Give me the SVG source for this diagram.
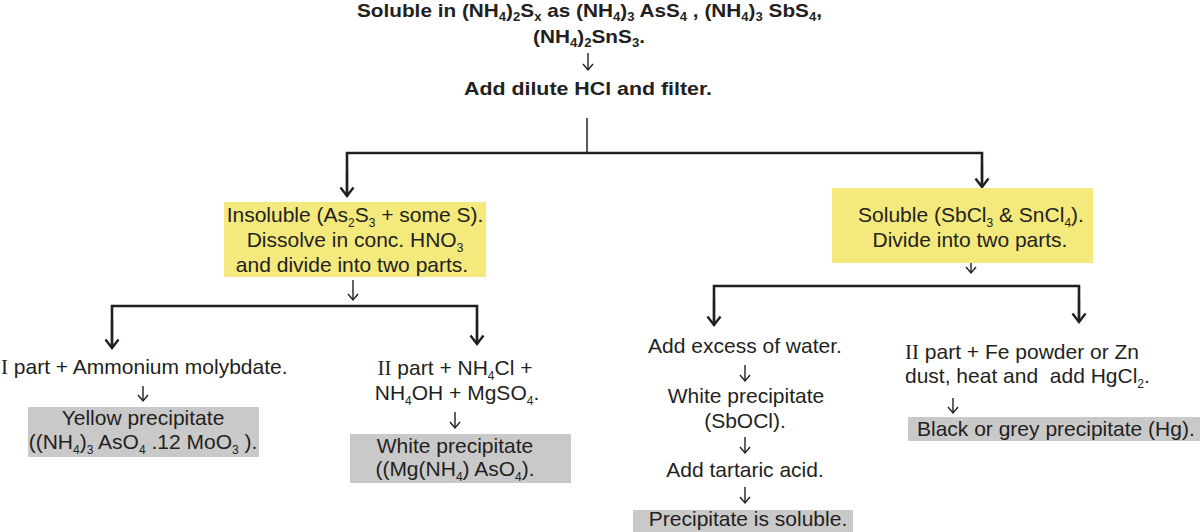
<svg xmlns="http://www.w3.org/2000/svg" width="1200" height="532" viewBox="0 0 1200 532">
<style>
.t{font-family:"Liberation Sans",Arial,sans-serif;font-size:21px;fill:#231f20}
.b{font-weight:bold;font-size:19px}
.s{font-size:12px}
.r{font-family:"Liberation Serif","Times New Roman",serif}
.ylw{fill:#f4e97d}
.gry{fill:#c9c9c9}
.ln{stroke:#231f20;fill:none}
.main{stroke-width:2.6}
.thin{stroke-width:1.5}
.arr{stroke-width:2.2;marker-end:url(#ah)}
.sm{stroke-width:1.4;marker-end:url(#sa)}
</style>
<defs>
<marker id="ah" viewBox="-12 -10 14 20" refX="0" refY="0" markerWidth="14" markerHeight="20" markerUnits="userSpaceOnUse" orient="auto">
<path d="M-8.5,-6.5 L0,0 L-8.5,6.5" fill="none" stroke="#231f20" stroke-width="2.4"/>
</marker>
<marker id="sa" viewBox="-10 -8 12 16" refX="0" refY="0" markerWidth="12" markerHeight="16" markerUnits="userSpaceOnUse" orient="auto">
<path d="M-6,-5 L0,0 L-6,5" fill="none" stroke="#231f20" stroke-width="1.4"/>
</marker>
</defs>
<rect width="1200" height="532" fill="#ffffff"/>

<g id="connectors">
<line class="ln sm" x1="588" y1="53" x2="588" y2="70"/>
<line class="ln thin" x1="587" y1="118" x2="587" y2="153"/>
<polyline class="ln main" points="347,196 347,153 982,153 982,187" style="marker-end:none"/>
<line class="ln arr" x1="347" y1="170" x2="347" y2="196"/>
<line class="ln arr" x1="982" y1="165" x2="982" y2="187"/>
<line class="ln sm" x1="353" y1="280" x2="353" y2="300"/>
<polyline class="ln main" points="112,346 112,306 477,306 477,344"/>
<line class="ln arr" x1="112" y1="320" x2="112" y2="348"/>
<line class="ln arr" x1="477" y1="320" x2="477" y2="344"/>
<line class="ln sm" x1="971" y1="255" x2="971" y2="273"/>
<polyline class="ln main" points="714,324 714,286 1079,286 1079,322"/>
<line class="ln arr" x1="714" y1="300" x2="714" y2="325"/>
<line class="ln arr" x1="1079" y1="300" x2="1079" y2="322"/>
<line class="ln sm" x1="143" y1="386" x2="143" y2="401"/>
<line class="ln sm" x1="455" y1="412" x2="455" y2="428"/>
<line class="ln sm" x1="745" y1="365" x2="745" y2="381"/>
<line class="ln sm" x1="745" y1="437" x2="745" y2="453"/>
<line class="ln sm" x1="745" y1="487" x2="745" y2="503"/>
<line class="ln sm" x1="953" y1="398" x2="953" y2="413"/>
</g>

<g id="n-top">
<text class="t b" x="357" y="17" textLength="465" lengthAdjust="spacingAndGlyphs">Soluble in (NH<tspan class="s" dy="4">4</tspan><tspan dy="-4">)</tspan><tspan class="s" dy="4">2</tspan><tspan dy="-4">S</tspan><tspan class="s" dy="4">x</tspan><tspan dy="-4"> as (NH</tspan><tspan class="s" dy="4">4</tspan><tspan dy="-4">)</tspan><tspan class="s" dy="4">3</tspan><tspan dy="-4"> AsS</tspan><tspan class="s" dy="4">4</tspan><tspan dy="-4"> , (NH</tspan><tspan class="s" dy="4">4</tspan><tspan dy="-4">)</tspan><tspan class="s" dy="4">3</tspan><tspan dy="-4"> SbS</tspan><tspan class="s" dy="4">4</tspan><tspan dy="-4">,</tspan></text>
<text class="t b" x="533" y="43" textLength="112" lengthAdjust="spacingAndGlyphs">(NH<tspan class="s" dy="4">4</tspan><tspan dy="-4">)</tspan><tspan class="s" dy="4">2</tspan><tspan dy="-4">SnS</tspan><tspan class="s" dy="4">3</tspan><tspan dy="-4">.</tspan></text>
</g>

<g id="n-hcl">
<text class="t b" x="464" y="95" textLength="248" lengthAdjust="spacingAndGlyphs">Add dilute HCl and filter.</text>
</g>

<g id="n-insoluble">
<rect class="ylw" x="224" y="202" width="262" height="75"/>
<text class="t" x="355" y="222" text-anchor="middle">Insoluble (As<tspan class="s" dy="5">2</tspan><tspan dy="-5">S</tspan><tspan class="s" dy="5">3</tspan><tspan dy="-5"> + some S).</tspan></text>
<text class="t" x="355" y="247" text-anchor="middle">Dissolve in conc. HNO<tspan class="s" dy="5">3</tspan></text>
<text class="t" x="352" y="272" text-anchor="middle">and divide into two  parts.</text>
</g>

<g id="n-soluble">
<rect class="ylw" x="832" y="188" width="261" height="75"/>
<text class="t" x="971" y="222" text-anchor="middle">Soluble (SbCl<tspan class="s" dy="5">3</tspan><tspan dy="-5"> &amp; SnCl</tspan><tspan class="s" dy="5">4</tspan><tspan dy="-5">).</tspan></text>
<text class="t" x="970" y="247" text-anchor="middle">Divide into two parts.</text>
</g>

<g id="n-part1-as">
<text class="t" x="1" y="374"><tspan class="r">I</tspan> part + Ammonium molybdate.</text>
</g>

<g id="n-yellow-ppt">
<rect class="gry" x="28" y="407" width="231" height="50"/>
<text class="t" x="143" y="425" text-anchor="middle">Yellow precipitate</text>
<text class="t" x="143" y="449" text-anchor="middle">((NH<tspan class="s" dy="5">4</tspan><tspan dy="-5">)</tspan><tspan class="s" dy="5">3</tspan><tspan dy="-5"> AsO</tspan><tspan class="s" dy="5">4</tspan><tspan dy="-5"> .12 MoO</tspan><tspan class="s" dy="5">3</tspan><tspan dy="-5"> ).</tspan></text>
</g>

<g id="n-part2-as">
<text class="t" x="455" y="375" text-anchor="middle"><tspan class="r">II</tspan> part + NH<tspan class="s" dy="5">4</tspan><tspan dy="-5">Cl +</tspan></text>
<text class="t" x="457" y="400" text-anchor="middle">NH<tspan class="s" dy="5">4</tspan><tspan dy="-5">OH + MgSO</tspan><tspan class="s" dy="5">4</tspan><tspan dy="-5">.</tspan></text>
</g>

<g id="n-white-ppt-mg">
<rect class="gry" x="350" y="434" width="221" height="49"/>
<text class="t" x="455" y="453" text-anchor="middle">White precipitate</text>
<text class="t" x="455" y="476" text-anchor="middle">((Mg(NH<tspan class="s" dy="5">4</tspan><tspan dy="-5">) AsO</tspan><tspan class="s" dy="5">4</tspan><tspan dy="-5">).</tspan></text>
</g>

<g id="n-water">
<text class="t" x="745" y="353" text-anchor="middle">Add excess of water.</text>
</g>

<g id="n-sbocl">
<text class="t" x="746" y="403" text-anchor="middle">White precipitate</text>
<text class="t" x="745" y="428" text-anchor="middle">(SbOCl).</text>
</g>

<g id="n-tartaric">
<text class="t" x="745" y="477" text-anchor="middle">Add tartaric acid.</text>
</g>

<g id="n-soluble-ppt">
<rect class="gry" x="633" y="510" width="220" height="22"/>
<text class="t" x="748" y="526" text-anchor="middle">Precipitate is soluble.</text>
</g>

<g id="n-part2-sn">
<text class="t" x="905" y="359"><tspan class="r">II</tspan> part + Fe powder or Zn</text>
<text class="t" x="905" y="383" xml:space="preserve">dust, heat and  add HgCl<tspan class="s" dy="5">2</tspan><tspan dy="-5">.</tspan></text>
</g>

<g id="n-hg">
<rect class="gry" x="908" y="417" width="292" height="24"/>
<text class="t" x="917" y="436">Black or grey precipitate (Hg).</text>
</g>
</svg>
